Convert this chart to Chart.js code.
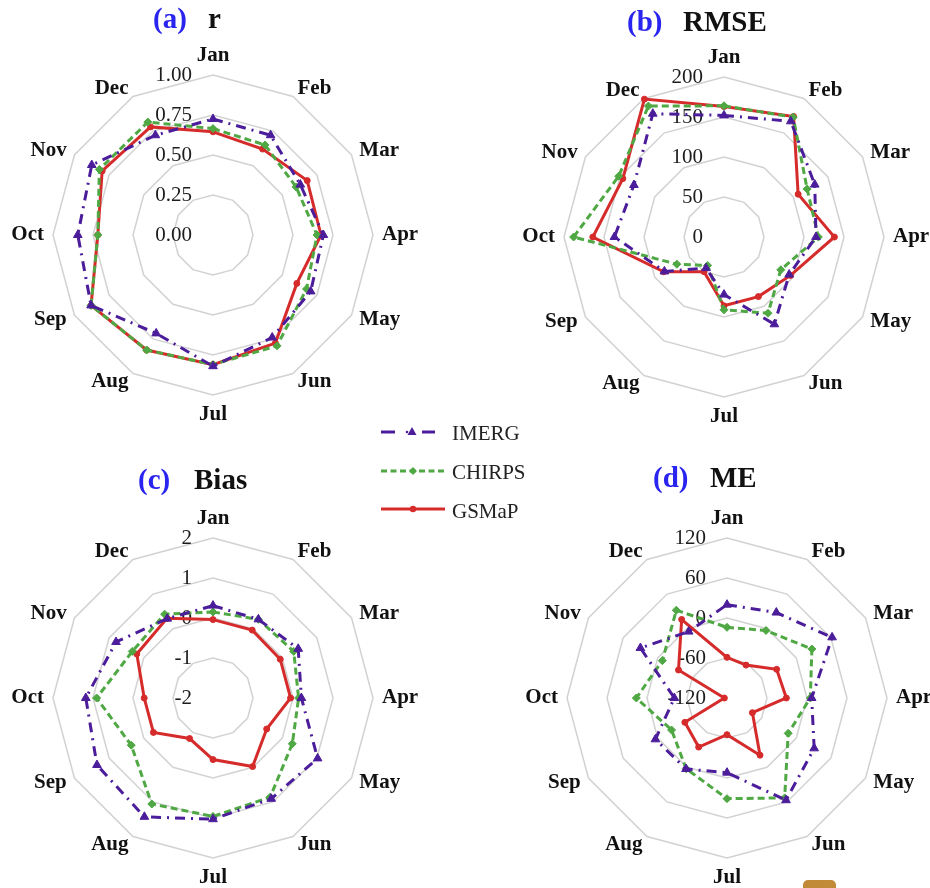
<!DOCTYPE html>
<html>
<head>
<meta charset="utf-8">
<script src="https://cdn.jsdelivr.net/npm/chart.js@4.4.1/dist/chart.umd.min.js"></script>
<style>
html,body{margin:0;padding:0;background:#fff;}
#wrap{position:relative;width:930px;height:888px;overflow:hidden;background:#fff;}
#wrap canvas{position:absolute;}
.t{position:absolute;font-family:'Liberation Serif',serif;font-weight:bold;font-size:29px;line-height:29px;white-space:nowrap;color:#111;}
.blue{color:#2a24f0;}
.lgt{position:absolute;left:452px;font-family:'Liberation Serif',serif;font-size:21px;line-height:21px;color:#222;white-space:nowrap;}
.lgs{position:absolute;left:378px;}
#mark{position:absolute;left:803px;top:880px;width:33px;height:16px;border-radius:5px;background:#c08a36;}
</style>
</head>
<body>
<div id="wrap">
  <canvas id="cA" width="460" height="460" style="left:-17px;top:5px;width:460px;height:460px"></canvas>
  <canvas id="cB" width="460" height="460" style="left:494px;top:7px;width:460px;height:460px"></canvas>
  <canvas id="cC" width="460" height="460" style="left:-17px;top:468px;width:460px;height:460px"></canvas>
  <canvas id="cD" width="460" height="460" style="left:497px;top:468px;width:460px;height:460px"></canvas>

  <div class="t blue" style="left:153px;top:4px">(a)</div>
  <div class="t" style="left:208px;top:4px">r</div>
  <div class="t blue" style="left:627px;top:7px">(b)</div>
  <div class="t" style="left:683px;top:7px">RMSE</div>
  <div class="t blue" style="left:138px;top:465px">(c)</div>
  <div class="t" style="left:194px;top:465px">Bias</div>
  <div class="t blue" style="left:653px;top:463px">(d)</div>
  <div class="t" style="left:710px;top:463px">ME</div>

  <svg class="lgs" style="top:421px" width="70" height="22">
    <line x1="3" y1="11" x2="17" y2="11" stroke="#4c1d9b" stroke-width="3"/>
    <circle cx="29" cy="11" r="1.3" fill="#4c1d9b"/>
    <polygon points="34,6 38.5,14 29.5,14" fill="#4c1d9b"/>
    <line x1="44" y1="11" x2="57" y2="11" stroke="#4c1d9b" stroke-width="3"/>
  </svg>
  <div class="lgt" style="top:423px">IMERG</div>

  <svg class="lgs" style="top:460px" width="70" height="22">
    <line x1="3" y1="11" x2="67" y2="11" stroke="#4fa843" stroke-width="3" stroke-dasharray="6,3.5"/>
    <polygon points="35,7 39,11 35,15 31,11" fill="#4fa843"/>
  </svg>
  <div class="lgt" style="top:462px">CHIRPS</div>

  <svg class="lgs" style="top:498px" width="70" height="22">
    <line x1="3" y1="11" x2="67" y2="11" stroke="#d62b2b" stroke-width="3"/>
    <circle cx="35" cy="11" r="3.2" fill="#d62b2b"/>
  </svg>
  <div class="lgt" style="top:501px">GSMaP</div>

  <div id="mark"></div>
</div>

<script>
// ---- categories ----
const months = ['Jan','Feb','Mar','Apr','May','Jun','Jul','Aug','Sep','Oct','Nov','Dec'];

// ---- tick labels ----
const rTicks = ['0.00','0.25','0.50','0.75','1.00'];
const rmseTicks = ['0','50','100','150','200'];
const biasTicks = ['-2','-1','0','1','2'];
const meTicks = ['-120','-60','0','60','120'];

// ---- (a) r ----
const rIMERG  = [0.725, 0.72, 0.63, 0.69, 0.705, 0.74, 0.82, 0.71, 0.88, 0.845, 0.875, 0.72];
const rCHIRPS = [0.665, 0.65, 0.60, 0.65, 0.675, 0.80, 0.81, 0.83, 0.88, 0.72, 0.82, 0.815];
const rGSMaP  = [0.645, 0.62, 0.68, 0.675, 0.605, 0.78, 0.81, 0.83, 0.88, 0.72, 0.80, 0.78];

// ---- (b) RMSE ----
const rmseIMERG  = [152, 167, 131, 115, 94, 126, 72, 45, 86, 137, 130, 178];
const rmseCHIRPS = [164, 173, 120, 118, 82, 110, 91, 41, 68, 188, 152, 189];
const rmseGSMaP  = [163, 174, 107, 138, 96, 86, 86, 50, 87, 164, 146, 199];

// ---- (c) Bias ----
const biasIMERG  = [0.31, 0.27, 0.46, 0.21, 1.02, 0.91, 1.03, 1.43, 1.35, 1.18, 0.80, 0.29];
const biasCHIRPS = [0.15, 0.27, 0.33, 0.14, 0.29, 0.86, 0.96, 1.06, 0.36, 0.91, 0.33, 0.42];
const biasGSMaP  = [-0.04, -0.04, -0.06, -0.06, -0.45, -0.02, -0.46, -0.83, -0.28, -0.28, 0.20, 0.30];

// ---- (d) ME ----
const meIMERG  = [20, 28, 62, 7, 31, 57, -8, 3, 4, -41, 30, -5];
const meCHIRPS = [-14, -3, 27, 5, -14, 53, 31, 2.5, -24, 16, -8, 32];
const meGSMaP  = [-59, -63, -34, -31, -76, -21, -65, -35, -47, -116, -36, 16];

const PURPLE = '#4c1d9b', GREEN = '#4fa843', RED = '#d62b2b';

const labelPlugin = {
  id: 'customLabels',
  beforeDatasetsDraw(chart) {
    const s = chart.scales.r;
    const ctx = chart.ctx;
    ctx.save();
    ctx.font = '21px "Liberation Serif"';
    ctx.fillStyle = '#1c1c1c';
    ctx.textAlign = 'right';
    ctx.textBaseline = 'middle';
    s.ticks.forEach(t => {
      const d = s.getDistanceFromCenterForValue(t.value);
      ctx.fillText(t.label, s.xCenter - 21, s.yCenter - d);
    });
    ctx.font = 'bold 21px "Liberation Serif"';
    ctx.fillStyle = '#111';
    chart.data.labels.forEach((lab, i) => {
      const p = s.getPointPosition(i, s.drawingArea + 9);
      let align = 'center', y = p.y;
      if (i === 0) y -= 10;
      else if (i === 6) y += 11;
      else if (i < 6) align = 'left';
      else align = 'right';
      ctx.textAlign = align;
      ctx.fillText(lab, p.x, y);
    });
    ctx.restore();
  }
};

function ds(label, data, color, style, radius, dash) {
  return {
    label, data,
    borderColor: color, backgroundColor: color,
    pointBackgroundColor: color, pointBorderColor: color,
    pointStyle: style, pointRadius: radius, pointBorderWidth: 1,
    borderWidth: 3, borderDash: dash, fill: false, tension: 0
  };
}

function makeChart(id, a, b, c, min, max, step, tickLabels) {
  new Chart(document.getElementById(id), {
    type: 'radar',
    data: {
      labels: months,
      datasets: [
        ds('IMERG', a, PURPLE, 'triangle', 5, [10, 6, 2, 6]),
        ds('CHIRPS', b, GREEN, 'rectRot', 4, [7, 4]),
        ds('GSMaP', c, RED, 'circle', 3, [])
      ]
    },
    options: {
      responsive: false,
      animation: false,
      layout: { padding: 70 },
      plugins: { legend: { display: false }, tooltip: { enabled: false }, title: { display: false } },
      scales: {
        r: {
          min: min, max: max,
          startAngle: 0,
          angleLines: { display: false },
          grid: { color: '#d2d2d2', lineWidth: 1.5, circular: false },
          pointLabels: { display: false },
          ticks: {
            display: false, stepSize: step,
            callback: (v, i) => tickLabels[i]
          }
        }
      }
    },
    plugins: [labelPlugin]
  });
}

makeChart('cA', rIMERG, rCHIRPS, rGSMaP, 0, 1, 0.25, rTicks);
makeChart('cB', rmseIMERG, rmseCHIRPS, rmseGSMaP, 0, 200, 50, rmseTicks);
makeChart('cC', biasIMERG, biasCHIRPS, biasGSMaP, -2, 2, 1, biasTicks);
makeChart('cD', meIMERG, meCHIRPS, meGSMaP, -120, 120, 60, meTicks);
</script>
</body>
</html>
